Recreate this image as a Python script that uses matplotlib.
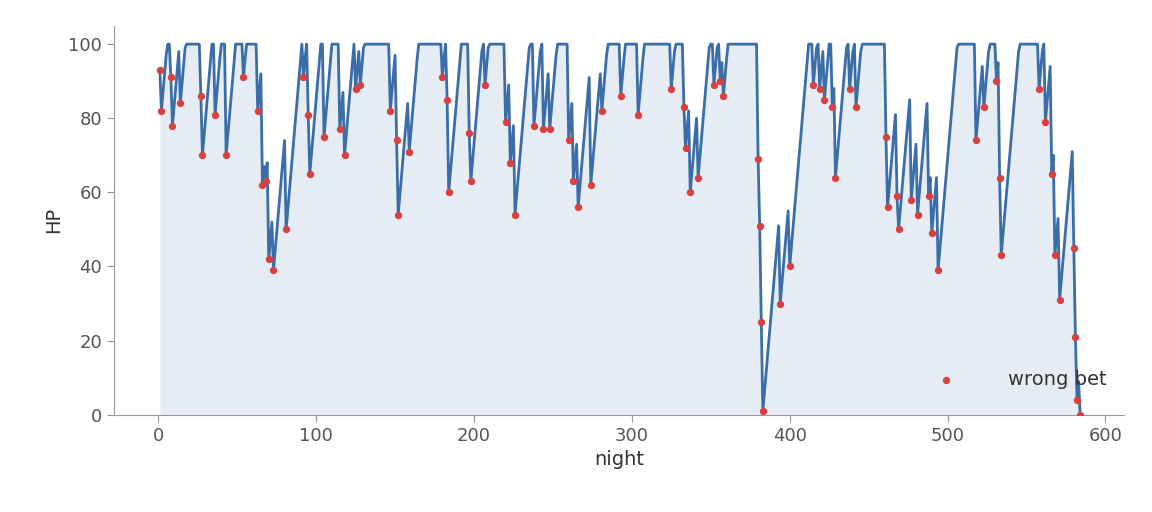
import numpy as np
import matplotlib
matplotlib.use("Agg")
import matplotlib.pyplot as plt

bet_nights = [1, 2, 8, 9, 14, 27, 28, 36, 43, 54, 63, 66, 68, 70, 73, 81, 92, 95, 96, 105,
              115, 118, 125, 128, 147, 151, 152, 159, 180, 183, 184, 197, 198, 207, 220, 223,
              226, 238, 244, 248, 260, 263, 266, 274, 281, 293, 304, 325, 333, 334, 337, 342,
              352, 356, 358, 380, 381, 382, 383, 394, 400, 415, 419, 422, 427, 429, 438, 442,
              461, 462, 468, 469, 477, 481, 488, 490, 494, 518, 523, 531, 533, 534, 558, 562,
              566, 568, 571, 580, 581, 582, 584]
bet_hp = [93, 82, 91, 78, 84, 86, 70, 81, 70, 91, 82, 62, 63, 42, 39, 50, 91, 81, 65, 75,
          77, 70, 88, 89, 82, 74, 54, 71, 91, 85, 60, 76, 63, 89, 79, 68,
          54, 78, 77, 77, 74, 63, 56, 62, 82, 86, 81, 88, 83, 72, 60, 64,
          89, 90, 86, 69, 51, 25, 1, 30, 40, 89, 88, 85, 83, 64, 88, 83,
          75, 56, 59, 50, 58, 54, 59, 49, 39, 74, 83, 90, 64, 43, 88, 79,
          65, 43, 31, 45, 21, 4, 0]
recovery_per_night = 5.0

n_last = bet_nights[-1]
nights = np.arange(1, n_last + 1)
hp_by_bet = dict(zip(bet_nights, bet_hp))
hp = []
cur = 100.0
for n in nights:
    cur = min(100.0, cur + recovery_per_night)
    if n in hp_by_bet:
        cur = hp_by_bet[n]
    hp.append(cur)
hp = np.array(hp)

fig, ax = plt.subplots(figsize=(11.52, 5.12), dpi=100)
fig.subplots_adjust(left=0.099, right=0.976, top=0.95, bottom=0.19)
line_c = "#3b6ea8"
ax.fill_between(nights, 0, hp, color="#dbe4f0", alpha=0.7, lw=0)
ax.plot(nights, hp, color=line_c, lw=2)
ax.scatter(bet_nights, bet_hp, color="#d94141", s=28, zorder=3, label="wrong bet", lw=0)

ax.set_xlim(-28, 612)
ax.set_ylim(0, 105)
ax.set_xticks([0, 100, 200, 300, 400, 500, 600])
ax.set_yticks([0, 20, 40, 60, 80, 100])
for s in ["top", "right"]:
    ax.spines[s].set_visible(False)
for s in ["left", "bottom"]:
    ax.spines[s].set_color("#999999")
ax.tick_params(colors="#555555", labelsize=13, length=5, color="#999999")
ax.set_xlabel("night", fontsize=14, color="#333333")
ax.set_ylabel("HP", fontsize=14, color="#333333")
leg = ax.legend(loc="lower right", frameon=False, fontsize=14, markerscale=1.0,
                handletextpad=2.2, bbox_to_anchor=(1.0, 0.02))
for t in leg.get_texts():
    t.set_color("#333333")
fig.savefig("out.png")
